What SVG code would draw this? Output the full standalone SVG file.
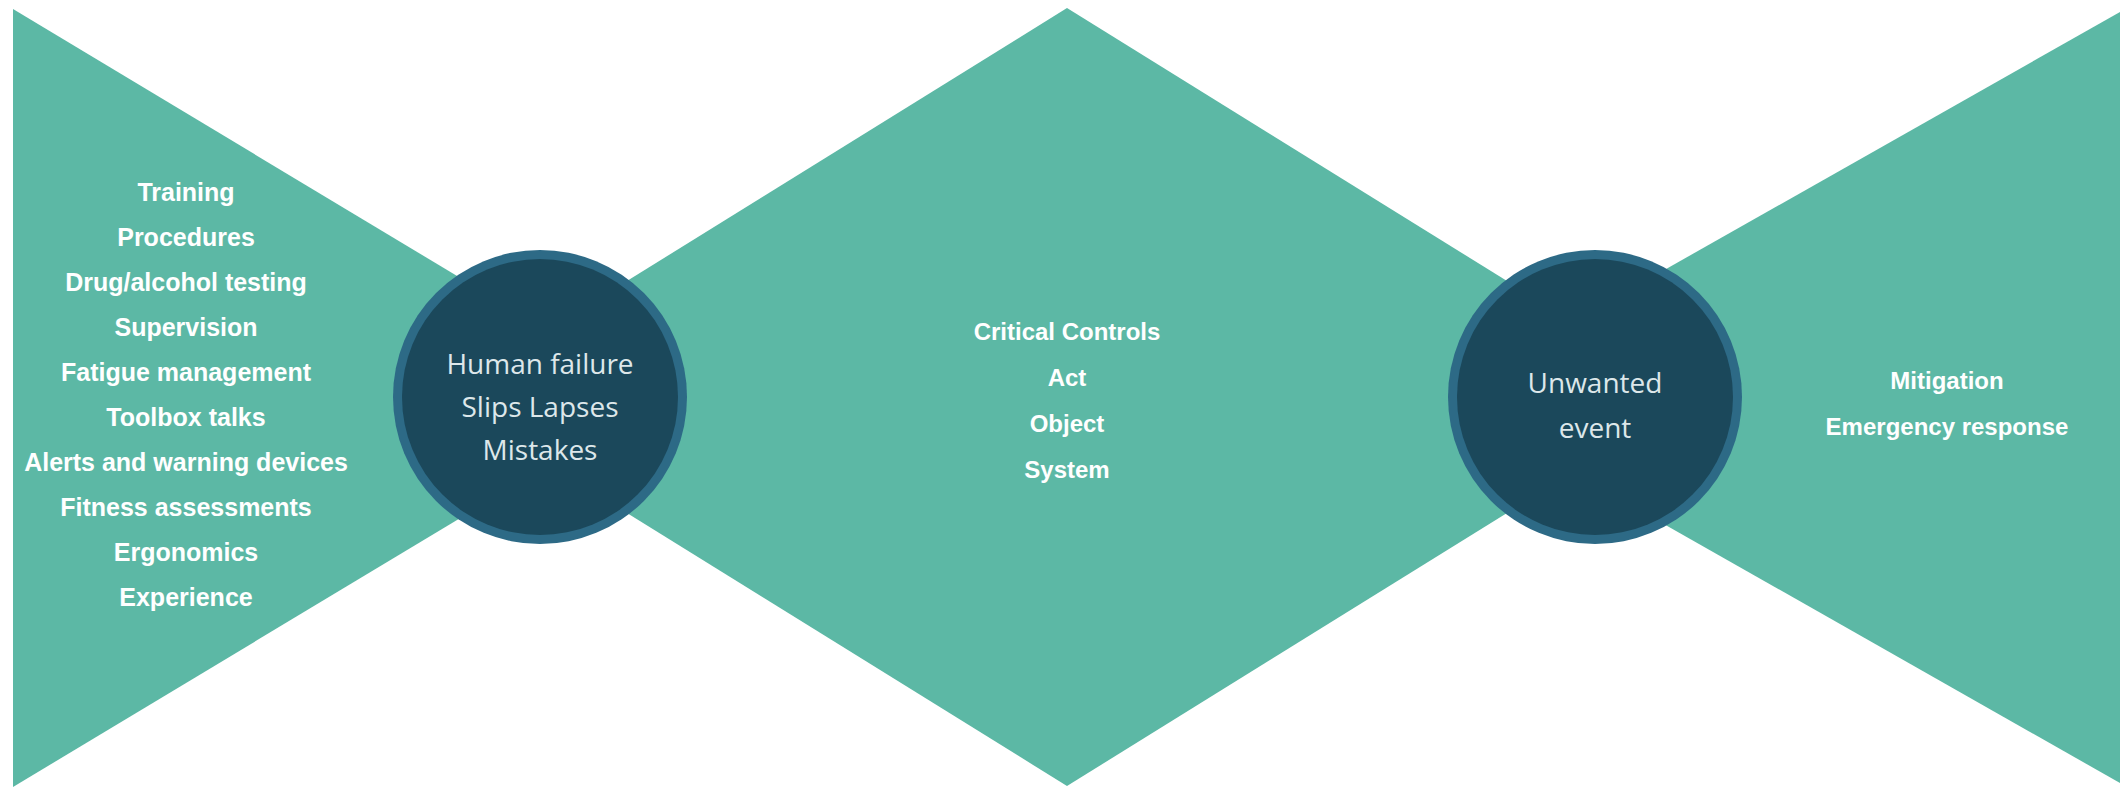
<svg xmlns="http://www.w3.org/2000/svg" width="2120" height="789" viewBox="0 0 2120 789">
<style>
.band{fill:#5cb8a5}
.ring{fill:#2d6a86}
.core{fill:#1b485b}
.lst{font-family:"Liberation Sans",Arial,sans-serif;font-weight:bold;font-size:25px;fill:#ffffff;text-anchor:middle}
.mid{font-family:"Liberation Sans",Arial,sans-serif;font-weight:bold;font-size:24px;fill:#ffffff;text-anchor:middle}
.ctx{font-family:"Open Sans","Liberation Sans",sans-serif;font-size:28px;fill:#dde7ea;text-anchor:middle}
</style>
<rect width="2120" height="789" fill="#ffffff"/>
<g id="connectors">
<polygon id="left-wedge" class="band" points="13,9 13,787 660,398"/>
<polygon id="middle-diamond" class="band" points="1067,8 1694,397 1067,786 440,397"/>
<polygon id="right-wedge" class="band" points="2120,12 2120,783 1440,397"/>
</g>
<g id="preventive-controls">
<text class="lst" x="186" y="201">Training</text>
<text class="lst" x="186" y="246">Procedures</text>
<text class="lst" x="186" y="291">Drug/alcohol testing</text>
<text class="lst" x="186" y="336">Supervision</text>
<text class="lst" x="186" y="381">Fatigue management</text>
<text class="lst" x="186" y="426">Toolbox talks</text>
<text class="lst" x="186" y="471">Alerts and warning devices</text>
<text class="lst" x="186" y="516">Fitness assessments</text>
<text class="lst" x="186" y="561">Ergonomics</text>
<text class="lst" x="186" y="606">Experience</text>
</g>
<g id="human-failure">
<circle class="ring" cx="540" cy="397" r="147"/>
<circle class="core" cx="540" cy="397" r="138"/>
<text class="ctx" x="540" y="374">Human failure</text>
<text class="ctx" x="540" y="417">Slips Lapses</text>
<text class="ctx" x="540" y="460">Mistakes</text>
</g>
<g id="critical-controls">
<text class="mid" x="1067" y="340">Critical Controls</text>
<text class="mid" x="1067" y="386">Act</text>
<text class="mid" x="1067" y="432">Object</text>
<text class="mid" x="1067" y="478">System</text>
</g>
<g id="unwanted-event">
<circle class="ring" cx="1595" cy="397" r="147"/>
<circle class="core" cx="1595" cy="397" r="138"/>
<text class="ctx" x="1595" y="393">Unwanted</text>
<text class="ctx" x="1595" y="438">event</text>
</g>
<g id="mitigation">
<text class="mid" x="1947" y="389">Mitigation</text>
<text class="mid" x="1947" y="435">Emergency response</text>
</g>
</svg>
